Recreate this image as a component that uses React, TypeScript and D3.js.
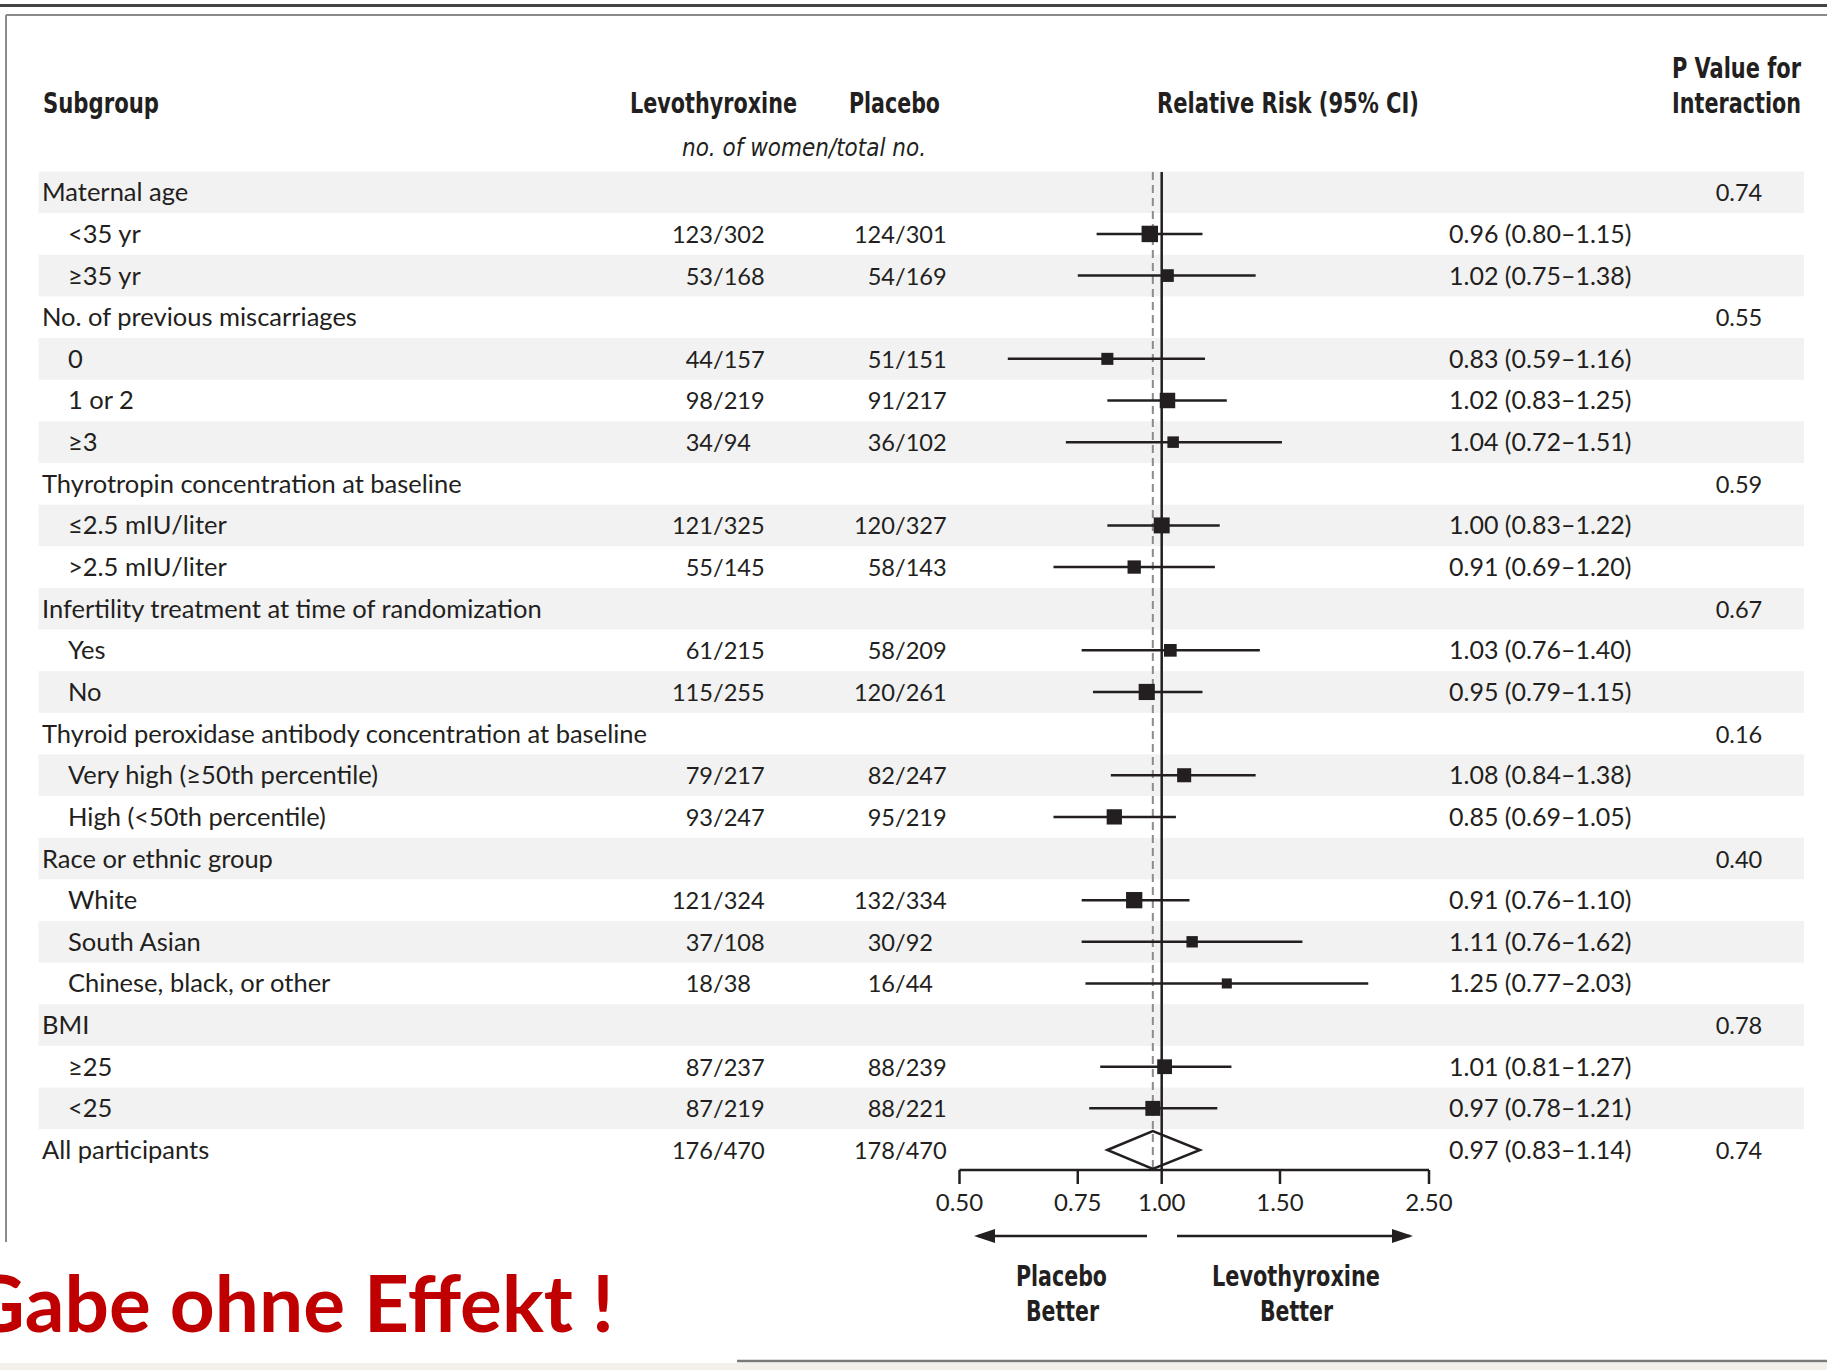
import React from "react";
import * as d3 from "d3";

// ---------------- data ----------------
const subgroupLabels = [
  "Maternal age", "<35 yr", "≥35 yr",
  "No. of previous miscarriages", "0", "1 or 2", "≥3",
  "Thyrotropin concentration at baseline", "≤2.5 mIU/liter", ">2.5 mIU/liter",
  "Infertility treatment at time of randomization", "Yes", "No",
  "Thyroid peroxidase antibody concentration at baseline", "Very high (≥50th percentile)", "High (<50th percentile)",
  "Race or ethnic group", "White", "South Asian", "Chinese, black, or other",
  "BMI", "≥25", "<25",
  "All participants",
];
const indentLevel = [0, 1, 1, 0, 1, 1, 1, 0, 1, 1, 0, 1, 1, 0, 1, 1, 0, 1, 1, 1, 0, 1, 1, 0];
const levoEvents = [null, 123, 53, null, 44, 98, 34, null, 121, 55, null, 61, 115, null, 79, 93, null, 121, 37, 18, null, 87, 87, 176];
const levoTotals = [null, 302, 168, null, 157, 219, 94, null, 325, 145, null, 215, 255, null, 217, 247, null, 324, 108, 38, null, 237, 219, 470];
const placeboEvents = [null, 124, 54, null, 51, 91, 36, null, 120, 58, null, 58, 120, null, 82, 95, null, 132, 30, 16, null, 88, 88, 178];
const placeboTotals = [null, 301, 169, null, 151, 217, 102, null, 327, 143, null, 209, 261, null, 247, 219, null, 334, 92, 44, null, 239, 221, 470];
const relRisk = [null, 0.96, 1.02, null, 0.83, 1.02, 1.04, null, 1.0, 0.91, null, 1.03, 0.95, null, 1.08, 0.85, null, 0.91, 1.11, 1.25, null, 1.01, 0.97, 0.97];
const ciLow = [null, 0.8, 0.75, null, 0.59, 0.83, 0.72, null, 0.83, 0.69, null, 0.76, 0.79, null, 0.84, 0.69, null, 0.76, 0.76, 0.77, null, 0.81, 0.78, 0.83];
const ciHigh = [null, 1.15, 1.38, null, 1.16, 1.25, 1.51, null, 1.22, 1.2, null, 1.4, 1.15, null, 1.38, 1.05, null, 1.1, 1.62, 2.03, null, 1.27, 1.21, 1.14];
const pInteraction = ["0.74", null, null, "0.55", null, null, null, "0.59", null, null, "0.67", null, null, "0.16", null, null, "0.40", null, null, null, "0.78", null, null, "0.74"];
const overallRow = 23;
const axisTicks = [0.5, 0.75, 1.0, 1.5, 2.5];
const axisTickLabels = ["0.50", "0.75", "1.00", "1.50", "2.50"];

// ---------------- styles ----------------
const INK = "#231f20";
const BODY_FONT = "Lato, 'Open Sans', sans-serif";
const HEAD_FONT = "'Liberation Sans Narrow', 'DejaVu Sans Condensed', 'Roboto', sans-serif";
const fmt2 = (v: number) => v.toFixed(2);

export default function App() {
  const W = 1827;
  const H = 1370;
  const x = d3.scaleLog().domain([0.5, 2.5]).range([959.5, 1429]);
  const y = d3.scaleLinear().domain([0, 23]).range([192.3, 1150]);
  const rowH = y(1) - y(0);
  const sq = d3.scaleSqrt().domain([0, 1]).range([0, 9.9]);
  const levoSlashX = 713;
  const placSlashX = 895;
  const ciTextX = 1449;
  const pX = 1739;
  const labelFs = 25.5;
  const numFs = 23.6;
  const ciFs = 25;
  const base = 9;
  const axisY = 1170;
  const arrowY = 1236;
  const rows = d3.range(subgroupLabels.length);

  return (
    <svg width={W} height={H} style={{ position: "absolute", left: 0, top: 0, background: "#fff" }}>
      {/* frame */}
      <rect x={0} y={4} width={W} height={3} fill="#444" />
      <line x1={6} y1={15} x2={W} y2={15} stroke="#8a8a8a" strokeWidth={2} />
      <line x1={6} y1={15} x2={6} y2={1242} stroke="#8a8a8a" strokeWidth={2} />
      <line x1={737} y1={1361} x2={W} y2={1361} stroke="#7a7a7a" strokeWidth={2.5} />
      <rect x={0} y={1363} width={W} height={7} fill="#f3efe9" />

      {/* bands */}
      {rows.filter((i) => i % 2 === 0 && i !== overallRow).map((i) => (
        <rect key={"b" + i} x={38.5} y={y(i) - rowH / 2} width={1804 - 38.5} height={rowH} fill="#f2f2f2" />
      ))}

      {/* headers */}
      <g fill={INK} fontFamily={HEAD_FONT} fontWeight="bold" fontSize={28}>
        <text x={43} y={113} textLength={116} lengthAdjust="spacingAndGlyphs">Subgroup</text>
        <text x={630} y={113} textLength={167} lengthAdjust="spacingAndGlyphs">Levothyroxine</text>
        <text x={849} y={113} textLength={91} lengthAdjust="spacingAndGlyphs">Placebo</text>
        <text x={1157} y={113} textLength={262} lengthAdjust="spacingAndGlyphs">Relative Risk (95% CI)</text>
        <text x={1672} y={78} textLength={129} lengthAdjust="spacingAndGlyphs">P Value for</text>
        <text x={1672} y={113} textLength={129} lengthAdjust="spacingAndGlyphs">Interaction</text>
      </g>
      <text x={682} y={156} fill={INK} fontFamily={HEAD_FONT} fontStyle="italic" fontSize={25} textLength={244} lengthAdjust="spacingAndGlyphs">
        no. of women/total no.
      </text>

      {/* row texts */}
      <g fill={INK} fontFamily={BODY_FONT}>
        {rows.map((i) => (
          <g key={"t" + i}>
            <text x={indentLevel[i] ? 68 : 42} y={y(i) + base} fontSize={labelFs}>{subgroupLabels[i]}</text>
            {levoEvents[i] != null && (
              <g fontSize={numFs}>
                <text x={levoSlashX} y={y(i) + base} textAnchor="end">{levoEvents[i]}</text>
                <text x={levoSlashX} y={y(i) + base}>{"/" + levoTotals[i]}</text>
                <text x={placSlashX} y={y(i) + base} textAnchor="end">{placeboEvents[i]}</text>
                <text x={placSlashX} y={y(i) + base}>{"/" + placeboTotals[i]}</text>
              </g>
            )}
            {relRisk[i] != null && (
              <text x={ciTextX} y={y(i) + base} fontSize={ciFs}>
                {`${fmt2(relRisk[i] as number)} (${fmt2(ciLow[i] as number)}–${fmt2(ciHigh[i] as number)})`}
              </text>
            )}
            {pInteraction[i] != null && (
              <text x={pX} y={y(i) + base} textAnchor="middle" fontSize={numFs}>{pInteraction[i]}</text>
            )}
          </g>
        ))}
      </g>

      {/* reference lines */}
      <line x1={x(relRisk[overallRow] as number)} x2={x(relRisk[overallRow] as number)} y1={172} y2={1170}
        stroke="#8c8c8c" strokeWidth={2} strokeDasharray="8 5" />
      <line x1={x(1)} x2={x(1)} y1={172} y2={axisY} stroke={INK} strokeWidth={2.5} />

      {/* CI lines and squares */}
      {rows.filter((i) => relRisk[i] != null && i !== overallRow).map((i) => {
        const lo = ciLow[i] as number, hi = ciHigh[i] as number, rr = relRisk[i] as number;
        const side = sq(1 / Math.log(hi / lo));
        return (
          <g key={"ci" + i}>
            <line x1={x(lo)} x2={x(hi)} y1={y(i)} y2={y(i)} stroke={INK} strokeWidth={2.5} />
            <rect x={x(rr) - side / 2} y={y(i) - side / 2} width={side} height={side} fill={INK} />
          </g>
        );
      })}

      {/* overall diamond */}
      {(() => {
        const i = overallRow;
        const lo = ciLow[i] as number, hi = ciHigh[i] as number, rr = relRisk[i] as number;
        const yc = y(i);
        const pts = [[x(lo), yc], [x(rr), yc - 19], [x(hi), yc], [x(rr), yc + 19]];
        return <polygon points={pts.map((p) => p.join(",")).join(" ")} fill="none" stroke={INK} strokeWidth={2.5} />;
      })()}

      {/* axis */}
      <line x1={x(0.5)} x2={x(2.5)} y1={axisY} y2={axisY} stroke={INK} strokeWidth={2.5} />
      {axisTicks.map((t, k) => (
        <g key={"tick" + k}>
          <line x1={x(t)} x2={x(t)} y1={axisY} y2={axisY + 14} stroke={INK} strokeWidth={2.5} />
          <text x={x(t)} y={1211} textAnchor="middle" fill={INK} fontFamily={BODY_FONT} fontSize={24}>{axisTickLabels[k]}</text>
        </g>
      ))}

      {/* arrows */}
      <line x1={1147} x2={978} y1={arrowY} y2={arrowY} stroke={INK} strokeWidth={2.5} />
      <polygon points={`974,${arrowY} 995,${arrowY - 7} 995,${arrowY + 7}`} fill={INK} />
      <line x1={1177} x2={1410} y1={arrowY} y2={arrowY} stroke={INK} strokeWidth={2.5} />
      <polygon points={`1413,${arrowY} 1392,${arrowY - 7} 1392,${arrowY + 7}`} fill={INK} />

      <g fill={INK} fontFamily={HEAD_FONT} fontWeight="bold" fontSize={28}>
        <text x={1016} y={1286} textLength={91} lengthAdjust="spacingAndGlyphs">Placebo</text>
        <text x={1026} y={1321} textLength={73} lengthAdjust="spacingAndGlyphs">Better</text>
        <text x={1212} y={1286} textLength={168} lengthAdjust="spacingAndGlyphs">Levothyroxine</text>
        <text x={1260} y={1321} textLength={73} lengthAdjust="spacingAndGlyphs">Better</text>
      </g>

      {/* red annotation */}
      <text x={-32} y={1332} fill="#c00000" fontFamily="Lato, 'Open Sans', sans-serif" fontWeight="bold" fontSize={78}
        textLength={646} lengthAdjust="spacingAndGlyphs">
        Gabe ohne Effekt !
      </text>
    </svg>
  );
}
